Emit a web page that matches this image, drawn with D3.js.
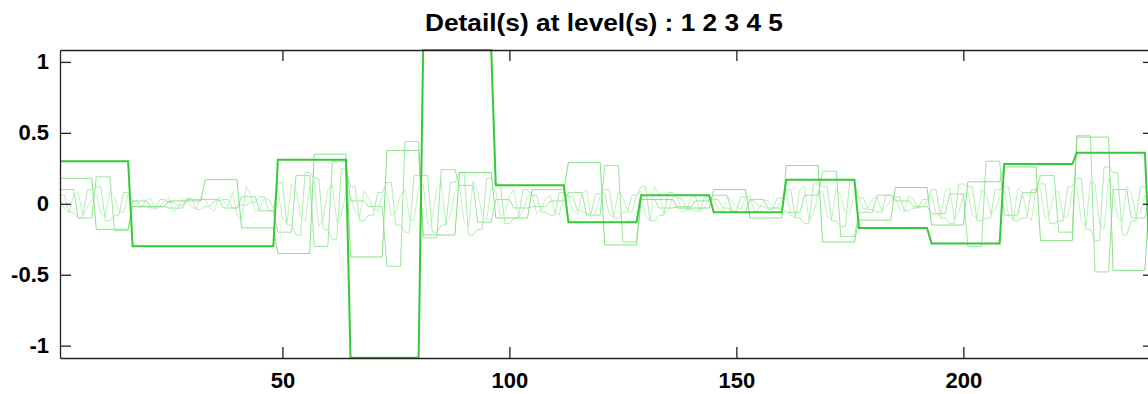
<!DOCTYPE html>
<html>
<head>
<meta charset="utf-8">
<script src="https://cdn.jsdelivr.net/npm/d3@7"></script>
<style>
  body { margin: 0; background: #fff; }
  text { font-family: "Liberation Sans", Arial, sans-serif; font-weight: bold; fill: #000; }
</style>
</head>
<body>
<script>
// wavelet details, values per block; block length in samples for each level
const level5 = [0.30, -0.30, -0.30, 0.31, -1.085, 1.085, 0.13, -0.13, 0.06, -0.06, 0.17, -0.17, -0.28, 0.28, 0.36, -0.36];
const level4 = [0.18, -0.18, -0.02, 0.02, 0.17, -0.17, -0.35, 0.35, -0.375, 0.375,
  -0.22, 0.22, -0.10, 0.10, 0.29, -0.29, 0.03, -0.03, 0.10, -0.10,
  0.27, -0.27, -0.115, 0.115, -0.15, 0.155, 0.26, -0.26, 0.47, -0.47, 0.08];
const level3 = [0.10, -0.10, 0.19, -0.19, 0.02, -0.02, -0.03, 0.03, 0.03, -0.03,
  0.05, -0.05, -0.20, 0.20, -0.30, 0.30, 0.02, -0.02, -0.44, 0.44,
  -0.24, 0.24, 0.13, -0.13, 0.03, -0.03, -0.02, 0.02, 0.08, -0.08,
  0.27, -0.27, 0.03, -0.03, -0.02, 0.02, 0.06, -0.06, 0.03, -0.03,
  -0.06, 0.06, 0.23, -0.23, -0.06, 0.06, 0.02, -0.02, -0.07, 0.07,
  -0.30, 0.30, -0.08, 0.08, 0.20, -0.20, 0.48, -0.48, 0.10, -0.10, 0.05];
const level2 = [0.06, -0.06, -0.10, 0.10, 0.12, -0.12, -0.08, 0.08,
  0.02, -0.02, -0.03, 0.03, 0.01, -0.01, 0.04, -0.04, -0.02, 0.02, 0.03, -0.03, -0.01, 0.01, 0.05, -0.05,
  0.15, -0.15, -0.22, 0.22, 0.18, -0.18, -0.25, 0.25,
  0.12, -0.12, -0.08, 0.08, 0.15, -0.15, -0.20, 0.20,
  0.20, -0.20, -0.15, 0.15, 0.22, -0.22, -0.18, 0.18,
  0.14, -0.14, -0.10, 0.10, 0.06, -0.06, -0.08, 0.08,
  0.05, -0.05, -0.07, 0.07, 0.10, -0.10, -0.06, 0.06,
  0.12, -0.12, -0.08, 0.08, 0.04, -0.04, -0.05, 0.05,
  0.03, -0.03, -0.05, 0.05, 0.02, -0.02, -0.04, 0.04,
  0.10, -0.10, -0.14, 0.14, 0.12, -0.12, -0.16, 0.16,
  0.04, -0.04, -0.06, 0.06, 0.05, -0.05, -0.03, 0.03,
  0.10, -0.10, -0.14, 0.14, 0.12, -0.12, -0.10, 0.10,
  0.12, -0.12, -0.10, 0.10, 0.14, -0.14, -0.12, 0.12,
  0.18, -0.18, -0.26, 0.26, 0.22, -0.22, -0.12, 0.12, 0.05];
const level1 = [0.04, -0.04, -0.06, 0.06, 0.08, -0.08, -0.03, 0.03, 0.07, -0.07, -0.09, 0.09, 0.05, -0.05, -0.06, 0.06,
  0.02, -0.02, -0.03, 0.03, 0.04, -0.04, -0.02, 0.02, 0.05, -0.05, -0.03, 0.03, 0.02, -0.02, -0.04, 0.04,
  0.03, -0.03, -0.05, 0.05, 0.02, -0.02, 0.08, -0.08, -0.12, 0.12, 0.06, -0.06, -0.04, 0.04, 0.03, -0.03,
  0.10, -0.10, -0.14, 0.14, 0.09, -0.09, -0.12, 0.12, 0.16, -0.16, -0.10, 0.10, 0.13, -0.13, -0.08, 0.08,
  0.06, -0.06, -0.09, 0.09, 0.04, -0.04, -0.05, 0.05, 0.08, -0.08, -0.06, 0.06, 0.10, -0.10, -0.12, 0.12,
  0.14, -0.14, -0.10, 0.10, 0.15, -0.15, -0.08, 0.08, 0.12, -0.12, -0.16, 0.16, 0.09, -0.09, -0.11, 0.11,
  0.09, -0.09, -0.06, 0.06, 0.10, -0.10, -0.05, 0.05, 0.07, -0.07, -0.04, 0.04, 0.06, -0.06, -0.08, 0.08,
  0.05, -0.05, -0.07, 0.07, 0.10, -0.10, -0.06, 0.06, 0.08, -0.08, -0.09, 0.09, 0.04, -0.04, -0.06, 0.06,
  0.09, -0.09, -0.12, 0.12, 0.07, -0.07, -0.05, 0.05, 0.06, -0.06, -0.04, 0.04, 0.05, -0.05, -0.03, 0.03,
  0.03, -0.03, -0.05, 0.05, 0.02, -0.02, -0.04, 0.04, 0.06, -0.06, -0.03, 0.03, 0.02, -0.02, -0.03, 0.03,
  0.08, -0.08, -0.10, 0.10, 0.12, -0.12, -0.07, 0.07, 0.09, -0.09, -0.11, 0.11, 0.06, -0.06, -0.08, 0.08,
  0.04, -0.04, -0.03, 0.03, 0.05, -0.05, -0.02, 0.02, 0.04, -0.04, -0.06, 0.06, 0.03, -0.03, -0.02, 0.02,
  0.07, -0.07, -0.09, 0.09, 0.11, -0.11, -0.06, 0.06, 0.08, -0.08, -0.10, 0.10, 0.07, -0.07, -0.05, 0.05,
  0.09, -0.09, -0.11, 0.11, 0.08, -0.08, -0.12, 0.12, 0.10, -0.10, -0.07, 0.07, 0.09, -0.09, -0.10, 0.10,
  0.12, -0.12, -0.16, 0.16, 0.14, -0.14, -0.18, 0.18, 0.10, -0.10, -0.12, 0.12, 0.08, -0.08, -0.06, 0.06,
  0.04, -0.04];

const levels = [
  { name: "1", blocks: level1, len: 1 },
  { name: "2", blocks: level2, len: 2 },
  { name: "3", blocks: level3, len: 4 },
  { name: "4", blocks: level4, len: 8 },
  { name: "5", blocks: level5, len: 16 }
];
const xTicks = [50, 100, 150, 200];
const yTicks = [-1, -0.5, 0, 0.5, 1];
const nSamples = 242;

const colors = ["#c2f2c2", "#aeedae", "#98e798", "#84e184", "#36c936"];

const width = 1148, height = 394;
const m = { left: 60, right: 1154, top: 50, bottom: 358 };

const svg = d3.select('body')
  .append('svg')
  .attr('width', width)
  .attr('height', height);

const x = d3.scaleLinear().domain([1, nSamples]).range([m.left, m.right]);
const y = d3.scaleLinear().domain([-1.087, 1.084]).range([m.bottom, m.top]);

svg.append("clipPath").attr("id", "plot")
  .append("rect")
  .attr("x", m.left).attr("y", m.top - 1)
  .attr("width", m.right - m.left).attr("height", m.bottom - m.top + 2);

const line = d3.line()
  .x(d => x(d[0]))
  .y(d => y(d[1]));

const samples = d3.range(1, nSamples + 1);

svg.append("g")
  .attr("clip-path", "url(#plot)")
  .selectAll("path")
  .data(levels)
  .enter().append("path")
  .attr("fill", "none")
  .attr("stroke", (d, i) => colors[i])
  .attr("stroke-width", (d, i) => i == 4 ? 2 : 1)
  .attr("d", d => line(samples.map(s => [s, d.blocks[Math.floor((s - 1) / d.len)]])));

// axes, ticks pointing inwards like matlab
const tick = 11;
svg.append("g")
  .attr("transform", "translate(0," + m.bottom + ")")
  .call(d3.axisBottom(x).tickValues(xTicks).tickSizeInner(-tick).tickSizeOuter(0).tickPadding(14))
  .call(g => g.selectAll("text").style("font-size", "22px"));

svg.append("g")
  .attr("transform", "translate(0," + m.top + ")")
  .call(d3.axisTop(x).tickValues(xTicks).tickSizeInner(-tick).tickSizeOuter(0).tickFormat(""));

svg.append("g")
  .attr("transform", "translate(" + m.left + ",0)")
  .call(d3.axisLeft(y).tickValues(yTicks).tickSizeInner(-tick).tickSizeOuter(0).tickPadding(11)
    .tickFormat(d => String(d)))
  .call(g => g.selectAll("text").style("font-size", "22px"));

svg.append("g")
  .attr("transform", "translate(" + m.right + ",0)")
  .call(d3.axisRight(y).tickValues(yTicks).tickSizeInner(-tick).tickSizeOuter(0).tickFormat(""));

svg.selectAll(".domain, .tick line")
  .attr("stroke", "#222")
  .attr("stroke-width", 1.3);

svg.append("text")
  .attr("x", 604)
  .attr("y", 31)
  .attr("text-anchor", "middle")
  .attr("textLength", 358)
  .attr("lengthAdjust", "spacingAndGlyphs")
  .style("font-size", "23px")
  .text("Detail(s) at level(s) : 1 2 3 4 5");
</script>
</body>
</html>
